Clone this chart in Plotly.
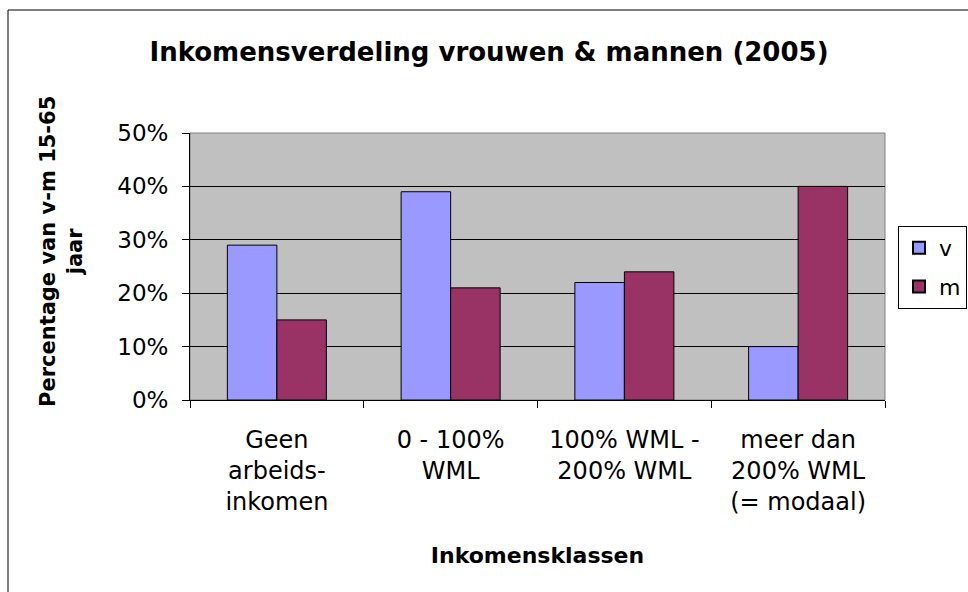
import plotly.graph_objects as go

categories = ["Geen<br>arbeids-<br>inkomen", "0 - 100%<br>WML", "100% WML -<br>200% WML", "meer dan<br>200% WML<br>(= modaal)"]
v_values = [0.29, 0.39, 0.22, 0.10]
m_values = [0.15, 0.21, 0.24, 0.40]
y_ticks = [0, 0.1, 0.2, 0.3, 0.4, 0.5]

FONT = "DejaVu Sans, Liberation Sans, Arial, sans-serif"

fig = go.Figure()
fig.add_trace(go.Bar(name="v", x=categories, y=v_values, legendgroup="v",
                     marker=dict(color="#9999FF", line=dict(color="black", width=1))))
fig.add_trace(go.Bar(name="m", x=categories, y=m_values, legendgroup="m",
                     marker=dict(color="#993366", line=dict(color="black", width=1))))

L, R, T, B = 190, 885, 133, 400
W, H = 968, 592
pw, ph = R - L, B - T

def px_x(x):
    return (x - L) / pw

def px_y(y):
    return (B - y) / ph

fig.update_layout(
    width=W, height=H,
    margin=dict(l=L, r=W - R, t=T, b=H - B, pad=0, autoexpand=False),
    paper_bgcolor="white",
    plot_bgcolor="#C0C0C0",
    barmode="group",
    bargap=0.43,
    bargroupgap=0,
    font=dict(family=FONT, size=23, color="black"),
    title=dict(text="<b>Inkomensverdeling vrouwen &amp; mannen (2005)</b>",
               x=489 / W, xref="container", xanchor="center",
               y=1 - 52 / H, yref="container", yanchor="middle",
               font=dict(size=26, family=FONT, color="black")),
    showlegend=True,
    legend=dict(x=px_x(898), y=px_y(226), xanchor="left", yanchor="top",
                bordercolor="black", borderwidth=1, bgcolor="white",
                font=dict(size=22, family=FONT),
                itemsizing="constant", itemwidth=30,
                traceorder="grouped", tracegroupgap=7),
    xaxis=dict(type="category", tickson="boundaries", ticks="outside", ticklen=7,
               tickcolor="black", showline=True, linecolor="black", linewidth=1,
               showgrid=False, ticklabelstandoff=18,
               tickfont=dict(size=24, family=FONT),
               title=dict(text="<b>Inkomensklassen</b>", standoff=32,
                          font=dict(size=22, family=FONT))),
    yaxis=dict(range=[0, 0.5], tickvals=y_ticks, tickformat=".0%",
               ticks="outside", ticklen=7, tickcolor="black",
               showline=True, linecolor="black", linewidth=1,
               gridcolor="black", gridwidth=1, zeroline=False,
               ticklabelstandoff=9,
               tickfont=dict(size=23, family=FONT)),
    annotations=[
        dict(text="<b>Percentage van v-m 15-65<br>jaar</b>", textangle=-90,
             xref="paper", yref="paper", x=px_x(61), y=px_y(252),
             xanchor="center", yanchor="middle", showarrow=False,
             font=dict(size=21, family=FONT, color="black")),
    ],
    shapes=[
        dict(type="rect", xref="paper", yref="paper", x0=0, x1=1, y0=0, y1=1,
             line=dict(color="#808080", width=1), layer="below"),
        dict(type="rect", xref="paper", yref="paper",
             x0=px_x(8), y0=px_y(700), x1=px_x(1100), y1=px_y(10),
             line=dict(color="black", width=1), fillcolor="rgba(0,0,0,0)"),
    ],
)

fig.write_html("out.html", config={"displayModeBar": False},
               post_script="document.body.style.margin='0';")
